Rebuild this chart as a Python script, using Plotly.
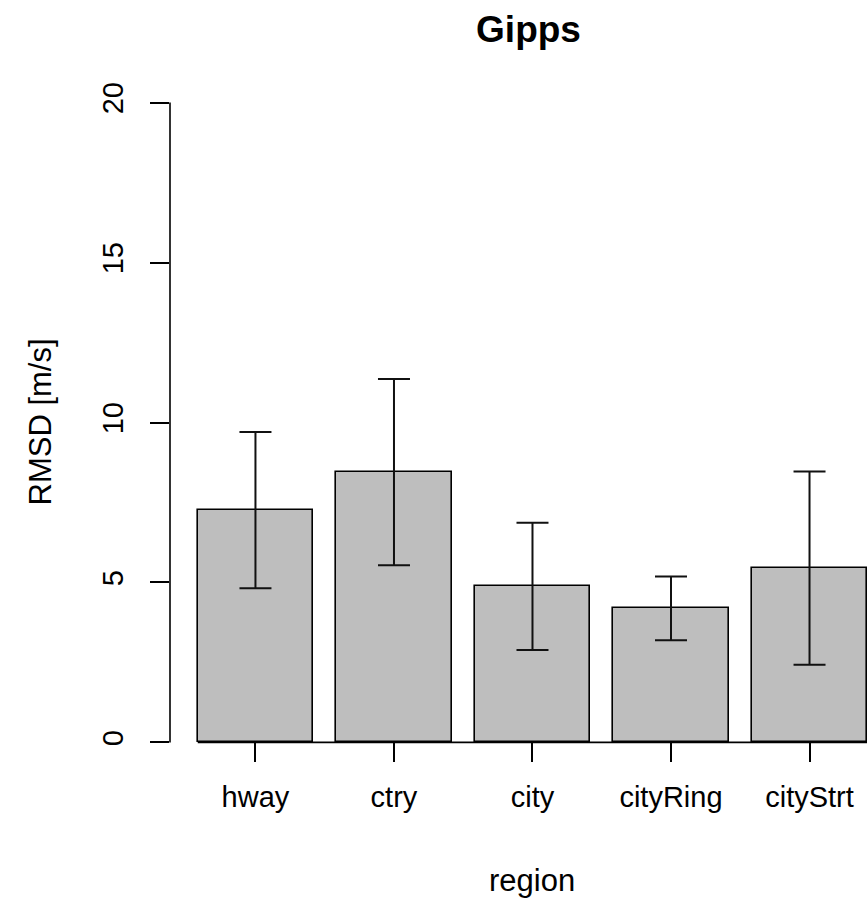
import plotly.graph_objects as go

# Mean RMSD per region with one standard deviation
regions = ["hway", "ctry", "city", "cityRing", "cityStrt"]
rmsd_mean = [7.26, 8.45, 4.88, 4.19, 5.45]
rmsd_sd = [2.44, 2.91, 1.99, 1.00, 3.02]
y_ticks = [0, 5, 10, 15, 20]

FONT = "Liberation Sans, Arial, sans-serif"
idx = list(range(len(regions)))

fig = go.Figure()
fig.add_trace(go.Bar(
    x=idx,
    y=rmsd_mean,
    width=1 / 1.2,
    marker=dict(color="#bebebe", line=dict(color="#000000", width=1.6)),
    error_y=dict(type="data", array=rmsd_sd, symmetric=True,
                 color="#111111", thickness=2, width=16),
    showlegend=False,
))

y_pad = 0.04 * (max(y_ticks) - min(y_ticks))

fig.update_layout(
    width=867, height=900,
    margin=dict(l=170, r=0, t=77, b=132, pad=0),
    paper_bgcolor="white", plot_bgcolor="white",
    font=dict(family=FONT, size=29, color="#000000"),
    title=dict(text="<b>Gipps</b>", font=dict(family=FONT, size=37, color="#000000"),
               xref="container", x=528.5 / 867, xanchor="center",
               yref="container", y=1 - 29 / 900, yanchor="middle"),
    bargap=0,
    xaxis=dict(
        range=[-0.617, 4.415],
        tickmode="array", tickvals=idx, ticktext=regions,
        ticks="outside", ticklen=19, tickwidth=1.6, tickcolor="#000000",
        ticklabelstandoff=10,
        tickfont=dict(family=FONT, size=29, color="#000000"),
        showline=False, showgrid=False, zeroline=False,
        anchor="free", position=y_pad / (max(y_ticks) - min(y_ticks) + 2 * y_pad),
    ),
    yaxis=dict(
        range=[min(y_ticks) - y_pad, max(y_ticks) + y_pad],
        tickmode="array", tickvals=y_ticks,
        ticks="outside", ticklen=19, tickwidth=1.6, tickcolor="#000000",
        tickangle=-90, ticklabelstandoff=15,
        tickfont=dict(family=FONT, size=29, color="#000000"),
        showline=False, showgrid=False, zeroline=False,
    ),
    annotations=[
        dict(text="RMSD [m/s]", textangle=-90, showarrow=False,
             xref="paper", x=(40 - 170) / 697, xanchor="center",
             yref="y", y=10.0, yanchor="middle",
             font=dict(family=FONT, size=31, color="#000000")),
        dict(text="region", showarrow=False,
             xref="x", x=2, xanchor="center",
             yref="paper", y=1 - (880 - 77) / 691, yanchor="middle",
             font=dict(family=FONT, size=31, color="#000000")),
    ],
    shapes=[
        # y axis line spanning the tick range
        dict(type="line", xref="paper", x0=0, x1=0, yref="y",
             y0=min(y_ticks), y1=max(y_ticks),
             line=dict(color="#000000", width=1.6)),
        # baseline under the bars
        dict(type="line", xref="x", x0=-0.5 / 1.2, x1=4.415, yref="y", y0=0, y1=0,
             line=dict(color="#000000", width=1.6)),
    ],
)

fig.write_html("out.html")
